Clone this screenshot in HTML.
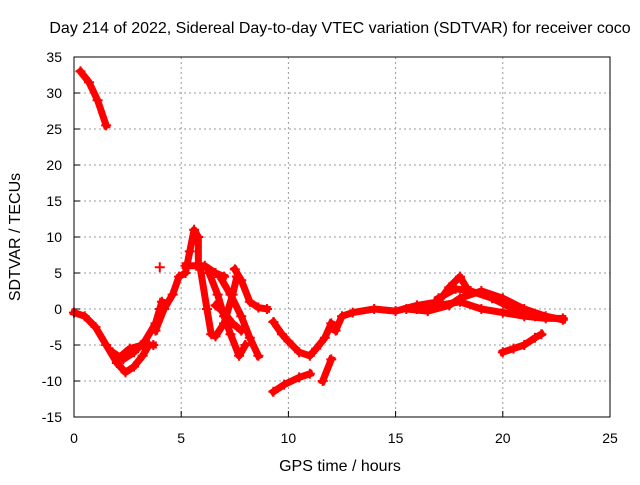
<!DOCTYPE html>
<html><head><meta charset="utf-8"><style>
body{margin:0;background:#fff;font-family:"Liberation Sans",sans-serif}
svg text{font-family:"Liberation Sans",sans-serif;font-size:14px;fill:#000}
svg text.big{font-size:16px}
</style></head><body>
<svg width="640" height="480" xmlns="http://www.w3.org/2000/svg">
<rect width="640" height="480" fill="#fff"/>
<text class="big" x="340" y="33" text-anchor="middle">Day 214 of 2022, Sidereal Day-to-day VTEC variation (SDTVAR) for receiver coco</text>
<text class="big" x="340" y="471" text-anchor="middle">GPS time / hours</text>
<text class="big" x="20" y="237" text-anchor="middle" transform="rotate(-90 20 237)">SDTVAR / TECUs</text>
<g id="grid"></g><g id="marks"></g>
<rect x="74" y="57" width="536" height="360" fill="none" stroke="#000"/>
</svg>
<script>
const xTicks=[0,5,10,15,20,25];
const yTicks=[-15,-10,-5,0,5,10,15,20,25,30,35];
const track1=[[0.3,33],[0.7,31.5],[1.1,29],[1.5,25.5]];
const track2=[[0,-0.5],[0.5,-1],[1,-2.5],[1.5,-5],[2,-7.5],[2.4,-8.8],[2.8,-8],[3.2,-6.5],[3.5,-5]];
const track3=[[1.8,-6],[2.3,-7],[2.8,-6],[3.3,-4.5],[3.8,-2],[4,0],[4.1,1]];
const track4=[[2,-7],[2.6,-5.5],[3.2,-5],[3.7,-5]];
const track5=[[3.8,-3],[4.2,0],[4.6,2],[4.9,4.5],[5.2,5],[5.4,8],[5.6,11],[5.8,10],[5.8,6]];
const track6=[[5.2,6],[5.7,6],[6.1,6],[6.6,5],[7,4.5]];
const track7=[[5.9,5.5],[6.2,0],[6.4,-3.5],[6.6,-3.8],[7.0,-2],[7.4,2],[7.6,4.5]];
const track8=[[6.3,5],[6.7,2],[7.0,-1],[7.3,-3.5],[7.7,-6.5],[8.0,-5]];
const track9=[[6.8,4.5],[7.3,2],[7.8,-1],[8.2,-4],[8.6,-6.5]];
const track10=[[7.5,5.5],[7.8,4],[8.2,1],[8.6,0.2],[9,0]];
const track11=[[6.6,0.5],[7.0,-0.5],[7.4,-2],[7.8,-3]];
const track12=[[9.3,-1.8],[9.7,-3.5],[10,-4.5],[10.5,-6],[11,-6.5],[11.3,-5.5],[11.7,-4],[12,-2]];
const track13=[[9.3,-11.5],[9.8,-10.5],[10.5,-9.5],[11,-9]];
const track14=[[11.6,-10],[12,-7]];
const track15=[[12.2,-3],[12.5,-1],[13,-0.5],[14,0],[15,-0.3],[16,0.5],[17,1],[17.5,3],[18,4.5],[18.3,3]];
const track16=[[15.5,0],[16.5,-0.3],[17.5,0.5],[18,1.5],[19,2.5],[20,1.5],[21,0],[22,-1],[22.8,-1.5]];
const track17=[[16,0],[17,0.5],[18,1],[19,0],[20,-0.5],[21,-1],[22,-1.3],[22.8,-1.3]];
const track18=[[17,1.5],[17.8,2.8],[18.5,2.5],[19.5,1.5],[20.5,0],[21.5,-1]];
const track19=[[20,-6],[20.5,-5.5],[21,-5],[21.5,-4],[21.8,-3.5]];
const track20=[[4,5.8]];
const tracks=[track1,track2,track3,track4,track5,track6,track7,track8,track9,track10,track11,track12,track13,track14,track15,track16,track17,track18,track19,track20];
const NS="http://www.w3.org/2000/svg";
const X=v=>74+v*536/25, Y=v=>417-(v+15)*360/50;
const grid=document.getElementById('grid'), marks=document.getElementById('marks');
function mk(tag,a,p){const e=document.createElementNS(NS,tag);for(const k in a)e.setAttribute(k,a[k]);p.appendChild(e);return e;}
xTicks.forEach(t=>{
 if(t>0&&t<25){const l=mk('line',{x1:X(t),x2:X(t),y1:57,y2:417,stroke:'#999','stroke-dasharray':'2,3'},grid);
 
 }
 const tk=mk('line',{x1:X(t),x2:X(t),y1:417,y2:411,stroke:'#000'},grid);
 
 
 const tx=mk('text',{x:X(t),y:443,'text-anchor':'middle'},grid);tx.textContent=t;
 
 
});
yTicks.forEach(t=>{
 if(t>-15&&t<35){const l=mk('line',{x1:74,x2:610,y1:Y(t),y2:Y(t),stroke:'#999','stroke-dasharray':'2,3'},grid);
 
 }
 const tk=mk('line',{x1:74,x2:80,y1:Y(t),y2:Y(t),stroke:'#000'},grid);
 
 
 const tx=mk('text',{x:62,y:Y(t)+5,'text-anchor':'end'},grid);tx.textContent=t;
 
 
});
tracks.forEach((tr,i)=>{
 const pl=mk('polyline',{points:tr.map(p=>X(p[0])+','+Y(p[1])).join(' '),fill:'none',stroke:'#f00','stroke-width':7,'stroke-linejoin':'round','stroke-linecap':'square'},marks);
 
 
 tr.forEach(p=>{const x=X(p[0]),y=Y(p[1]);
  const m=mk('path',{d:`M${x-5},${y}h10M${x},${y-5}v10`,stroke:'#f00','stroke-width':2},marks);
  
  
 });
});
</script>
</body></html>
